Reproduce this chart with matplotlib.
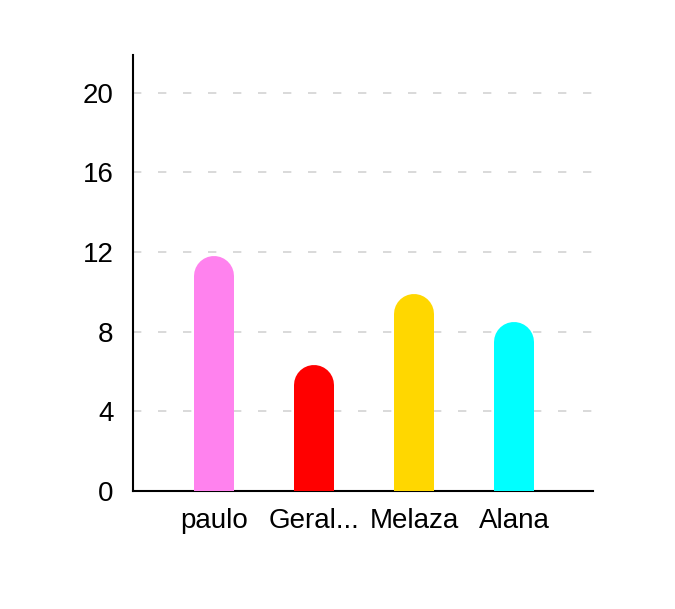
import matplotlib.pyplot as plt

names = ["paulo", "Geral...", "Melaza", "Alana"]
values = [11.8, 6.3, 9.9, 8.5]
colors = ["#FF82EE", "#FF0000", "#FFD700", "#00FFFF"]
yticks = [0, 4, 8, 12, 16, 20]

plt.rcParams["font.family"] = ["Liberation Sans", "DejaVu Sans"]

fig = plt.figure(figsize=(6.75, 6.09), dpi=100)
ax = fig.add_axes([0.197, 0.194, 0.682, 0.716])
ax.set_xlim(-0.81, 3.79)
ax.set_ylim(0, 21.9)

# bar width in pixels -> rounded caps via line capstyle
bar_px = 40
lw_pt = bar_px * 72 / fig.dpi
fig.canvas.draw()
px_per_unit = ax.transData.transform((0, 1))[1] - ax.transData.transform((0, 0))[1]
r = (bar_px / 2) / px_per_unit

xs = range(len(names))
for x, v, c in zip(xs, values, colors):
    ax.vlines(x, 0, v - r, colors=c, linewidth=lw_pt, capstyle="round", zorder=3)

ax.set_yticks(yticks)
ax.set_xticks(list(xs))
ax.set_xticklabels(names)
ax.tick_params(axis="both", length=0, labelsize=20)
ax.tick_params(axis="x", pad=12)
ax.tick_params(axis="y", pad=14)

ax.grid(axis="y", color="#d3d3d3", linestyle=(0, (5, 10)), linewidth=1.2)
ax.set_axisbelow(True)
for s in ["top", "right"]:
    ax.spines[s].set_visible(False)
ax.spines["left"].set_linewidth(1.5)
ax.spines["bottom"].set_linewidth(1.5)

fig.savefig("out.png", dpi=100)
